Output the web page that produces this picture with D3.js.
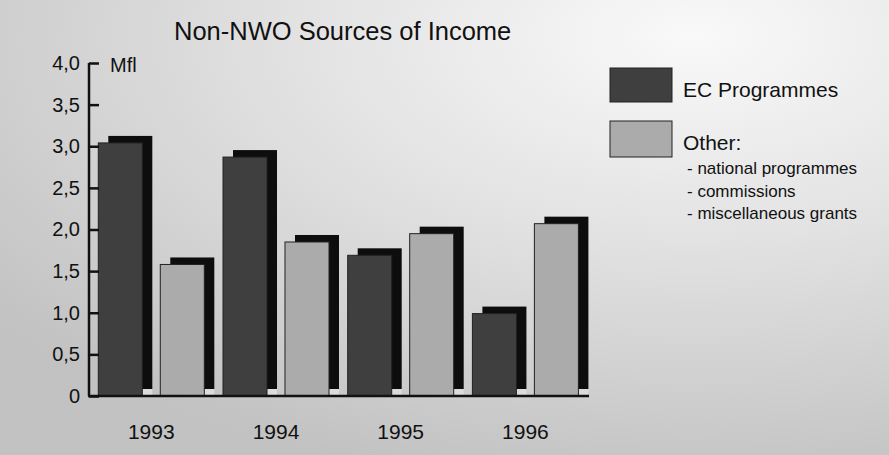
<!DOCTYPE html>
<html>
<head>
<meta charset="utf-8">
<script src="https://cdn.jsdelivr.net/npm/d3@7"></script>
<style>
  body { margin: 0; background: #fff; }
  text { font-family: "Liberation Sans", Arial, sans-serif; fill: #111; }
</style>
</head>
<body>
<script>
var years = ["1993", "1994", "1995", "1996"];
var series = ["EC Programmes", "Other"];
var ecValues = [3.04, 2.87, 1.69, 0.99];
var otherValues = [1.58, 1.85, 1.95, 2.07];
var yTicks = [0, 0.5, 1, 1.5, 2, 2.5, 3, 3.5, 4];
var otherItems = ["- national programmes", "- commissions", "- miscellaneous grants"];

var w = 889, h = 455;
var dx = 10, dy = 7; // offset of the black shadow bar

var svg = d3.select("body").append("svg").attr("width", w).attr("height", h);

// halftone-ish background, light at top right, greyer at left and bottom
var defs = svg.append("defs");
var grad = defs.append("radialGradient").attr("id", "bg")
    .attr("cx", "78%").attr("cy", "8%").attr("r", "100%");
grad.append("stop").attr("offset", "0%").attr("stop-color", "#f9f9f9");
grad.append("stop").attr("offset", "45%").attr("stop-color", "#e2e2e2");
grad.append("stop").attr("offset", "100%").attr("stop-color", "#c2c2c2");
svg.append("rect").attr("width", w).attr("height", h).attr("fill", "url(#bg)");

var y = d3.scaleLinear().domain([0, 4]).range([396, 63]);
var x0 = d3.scaleBand().domain(years).range([98.3, 578.4]).paddingInner(0.15);
var x1 = d3.scaleBand().domain(series).range([0, x0.bandwidth()]).paddingInner(0.29);

var fills = { "EC Programmes": "#3f3f3f", "Other": "#ababab" };

var rows = years.map(function (yr, i) {
    return [
        { year: yr, key: "EC Programmes", value: ecValues[i] },
        { year: yr, key: "Other", value: otherValues[i] }
    ];
});
var bars = [].concat.apply([], rows);

var g = svg.append("g");

// shadow bars
g.selectAll(".shadow").data(bars).enter().append("rect")
    .attr("class", "shadow")
    .attr("x", function (d) { return x0(d.year) + x1(d.key) + dx; })
    .attr("y", function (d) { return y(d.value) - dy; })
    .attr("width", x1.bandwidth())
    .attr("height", function (d) { return y(0) - y(d.value); })
    .attr("fill", "#0d0d0d");

// light gap under each shadow
g.selectAll(".gap").data(bars).enter().append("rect")
    .attr("class", "gap")
    .attr("x", function (d) { return x0(d.year) + x1(d.key) + x1.bandwidth(); })
    .attr("y", y(0) - dy)
    .attr("width", dx)
    .attr("height", dy)
    .attr("fill", "#dcdcdc");

// front bars
g.selectAll(".bar").data(bars).enter().append("rect")
    .attr("class", "bar")
    .attr("x", function (d) { return x0(d.year) + x1(d.key); })
    .attr("y", function (d) { return y(d.value); })
    .attr("width", x1.bandwidth())
    .attr("height", function (d) { return y(0) - y(d.value); })
    .attr("fill", function (d) { return fills[d.key]; })
    .attr("stroke", "#222").attr("stroke-width", 1);

// y axis
var yAxis = d3.axisLeft(y).tickValues(yTicks).tickSize(-10).tickPadding(9)
    .tickFormat(function (d) { return d === 0 ? "0" : d3.format(".1f")(d).replace(".", ","); });
var ya = svg.append("g").attr("transform", "translate(89,0)").call(yAxis);
ya.select(".domain").attr("stroke", "#111").attr("stroke-width", 2.5).attr("d", "M0,63V396");
ya.selectAll(".tick line").attr("stroke", "#111").attr("stroke-width", 2.5);
ya.selectAll(".tick text").attr("font-size", "20px").attr("fill", "#111")
    .attr("font-family", "Liberation Sans, Arial, sans-serif");

// baseline
svg.append("line").attr("x1", 88).attr("x2", 589).attr("y1", y(0)).attr("y2", y(0))
    .attr("stroke", "#111").attr("stroke-width", 2.5);

// year labels
svg.selectAll(".year").data(years).enter().append("text")
    .attr("x", function (d) { return x0(d) + x0.bandwidth() / 2; })
    .attr("y", 439)
    .attr("text-anchor", "middle").attr("font-size", "21px")
    .text(function (d) { return d; });

svg.append("text").attr("x", 110).attr("y", 72).attr("font-size", "20px").text("Mfl");

svg.append("text").attr("x", 174).attr("y", 40).attr("font-size", "25.5px")
    .text("Non-NWO Sources of Income");

// legend
var lg = svg.append("g");
lg.append("rect").attr("x", 610).attr("y", 68).attr("width", 62).attr("height", 34)
    .attr("fill", fills["EC Programmes"]).attr("stroke", "#222");
lg.append("rect").attr("x", 610).attr("y", 121).attr("width", 62).attr("height", 36)
    .attr("fill", fills["Other"]).attr("stroke", "#222");
lg.append("text").attr("x", 683).attr("y", 97).attr("font-size", "21px").text(series[0]);
lg.append("text").attr("x", 683).attr("y", 150).attr("font-size", "21px").text("Other:");
lg.selectAll(".item").data(otherItems).enter().append("text")
    .attr("x", 687)
    .attr("y", function (d, i) { return 174 + i * 22.5; })
    .attr("font-size", "17px")
    .text(function (d) { return d; });
</script>
</body>
</html>
